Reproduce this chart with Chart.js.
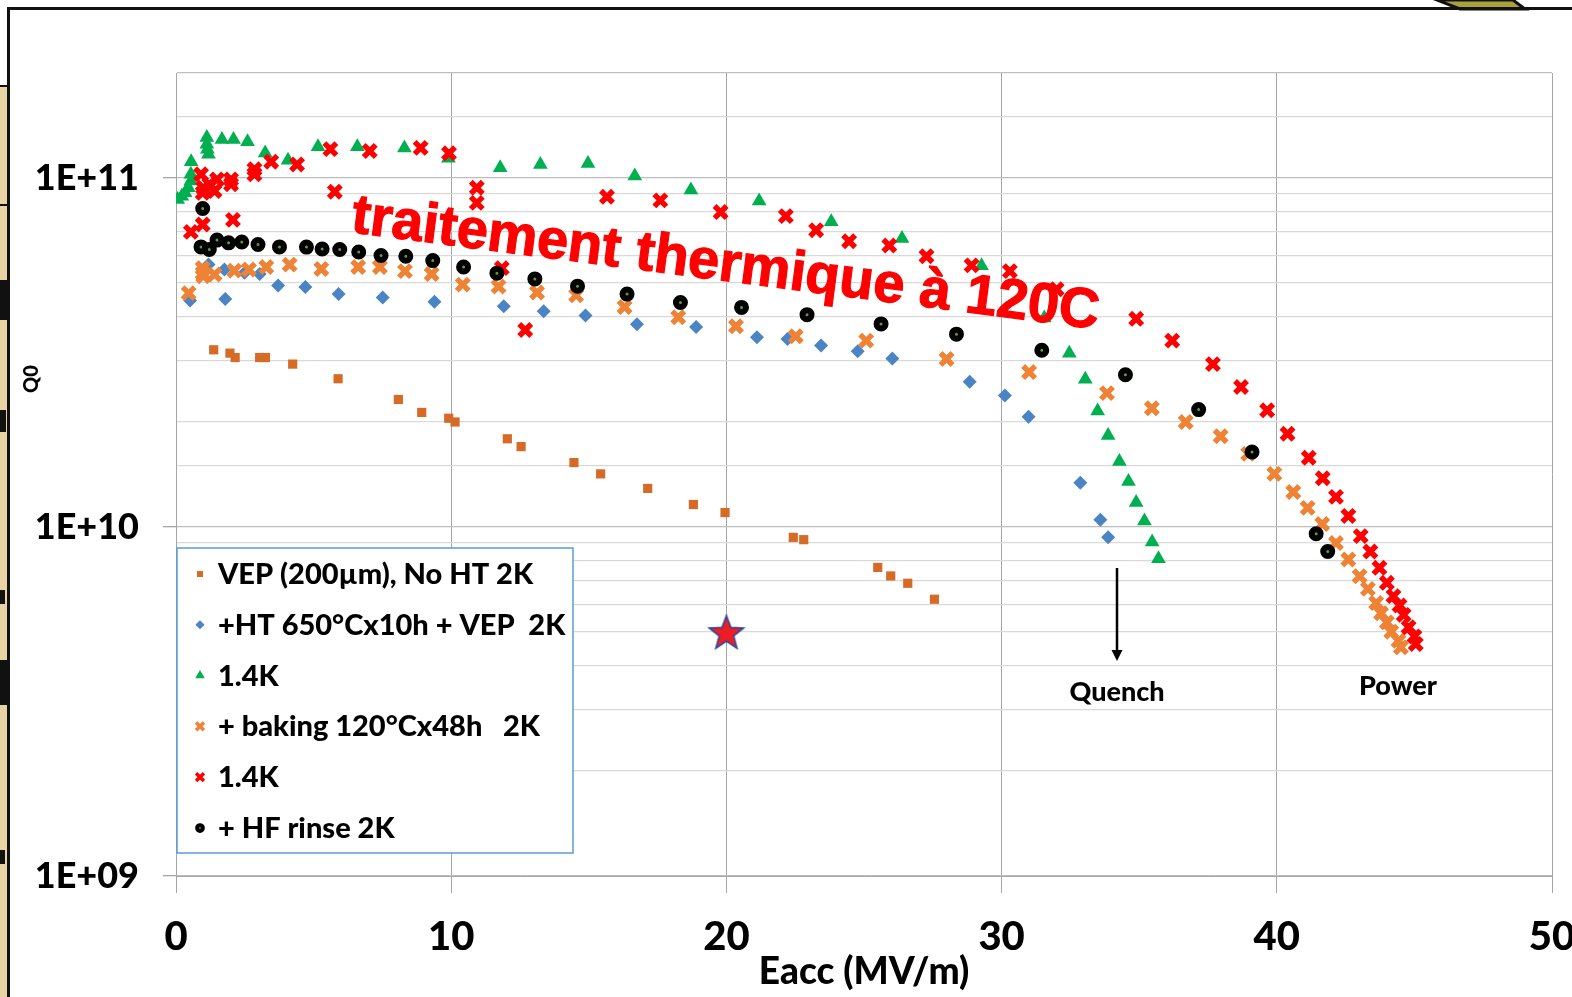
<!DOCTYPE html>
<html>
<head>
<meta charset="utf-8">
<script src="https://cdn.jsdelivr.net/npm/chart.js@4.4.0/dist/chart.umd.min.js"></script>
<style>
  html, body { margin: 0; padding: 0; background: #fff; }
  #wrap { position: relative; width: 1572px; height: 997px; }
</style>
</head>
<body>
<div id="wrap"><canvas id="c" width="1572" height="997"></canvas></div>
<script>
// Q0 vs Eacc
const seriesNames = [
  'VEP (200µm), No HT 2K',
  '+HT 650°Cx10h + VEP  2K',
  '1.4K',
  '+ baking 120°Cx48h   2K',
  '1.4K',
  '+ HF rinse 2K',
];

const vepX = [1.37, 1.96, 2.15, 3.04, 3.25, 4.24, 5.89, 8.08, 8.93, 9.91, 10.14, 12.04, 12.54, 14.46, 15.43, 17.14, 18.80, 19.95, 22.43, 22.81, 25.50, 25.97, 26.59, 27.56];
const vepQ = [3.22e10, 3.15e10, 3.06e10, 3.06e10, 3.06e10, 2.93e10, 2.66e10, 2.32e10, 2.13e10, 2.05e10, 2.0e10, 1.79e10, 1.70e10, 1.53e10, 1.42e10, 1.29e10, 1.16e10, 1.10e10, 9.34e9, 9.2e9, 7.66e9, 7.24e9, 6.90e9, 6.21e9];

const htX = [0.51, 1.18, 1.76, 1.79, 2.49, 3.04, 3.71, 4.70, 5.91, 7.51, 9.39, 11.91, 13.36, 14.88, 16.75, 18.90, 21.11, 22.22, 23.44, 24.77, 26.03, 28.84, 30.12, 30.98, 32.86, 33.59, 33.87];
const htQ = [4.46e10, 5.65e10, 5.47e10, 4.50e10, 5.35e10, 5.31e10, 4.92e10, 4.87e10, 4.65e10, 4.55e10, 4.42e10, 4.29e10, 4.15e10, 4.04e10, 3.81e10, 3.74e10, 3.50e10, 3.46e10, 3.31e10, 3.19e10, 3.04e10, 2.61e10, 2.38e10, 2.07e10, 1.34e10, 1.05e10, 9.34e9];

const cold1X = [0.06, 0.21, 0.33, 0.45, 0.54, 0.54, 0.55, 1.12, 1.12, 1.14, 1.18, 1.67, 2.09, 2.60, 3.24, 4.07, 5.16, 6.59, 8.30, 9.90, 11.78, 13.24, 14.97, 16.67, 18.71, 21.19, 23.81, 26.38, 29.27, 31.55, 32.46, 33.04, 33.49, 33.87, 34.28, 34.61, 34.89, 35.19, 35.47, 35.70];
const cold1Q = [8.68e10, 8.87e10, 9.07e10, 9.38e10, 9.80e10, 1.025e11, 1.114e11, 1.306e11, 1.25e11, 1.21e11, 1.17e11, 1.29e11, 1.29e11, 1.27e11, 1.18e11, 1.124e11, 1.23e11, 1.23e11, 1.22e11, 1.14e11, 1.07e11, 1.094e11, 1.10e11, 1.013e11, 9.24e10, 8.59e10, 7.49e10, 6.71e10, 5.61e10, 3.97e10, 3.15e10, 2.65e10, 2.15e10, 1.83e10, 1.54e10, 1.35e10, 1.175e10, 1.04e10, 9.06e9, 8.11e9];

const bakX = [0.46, 0.97, 0.97, 0.99, 1.40, 2.12, 2.65, 3.28, 4.13, 5.28, 6.62, 7.41, 8.32, 9.29, 10.42, 11.72, 13.12, 14.54, 16.30, 18.25, 20.35, 22.52, 25.08, 28.0, 31.0, 33.83, 35.46, 36.69, 37.96, 38.96, 39.91, 40.60, 41.12, 41.65, 42.15, 42.60, 43.01, 43.31, 43.61, 43.79, 44.0, 44.16, 44.42, 44.51];
const bakQ = [4.68e10, 5.52e10, 5.34e10, 5.23e10, 5.29e10, 5.43e10, 5.47e10, 5.56e10, 5.65e10, 5.49e10, 5.56e10, 5.56e10, 5.41e10, 5.31e10, 4.95e10, 4.89e10, 4.70e10, 4.61e10, 4.27e10, 3.99e10, 3.76e10, 3.52e10, 3.42e10, 3.03e10, 2.78e10, 2.42e10, 2.19e10, 2.00e10, 1.82e10, 1.62e10, 1.42e10, 1.26e10, 1.135e10, 1.02e10, 9.0e9, 8.07e9, 7.23e9, 6.65e9, 6.06e9, 5.66e9, 5.33e9, 5.01e9, 4.72e9, 4.52e9];

const cold2X = [0.54, 0.91, 0.97, 0.97, 0.99, 1.21, 1.40, 1.49, 2.00, 2.00, 2.07, 2.85, 2.85, 3.46, 4.40, 5.61, 5.77, 7.04, 8.89, 9.92, 10.93, 10.93, 11.84, 12.69, 15.66, 17.60, 19.79, 22.16, 23.26, 24.46, 25.92, 27.27, 28.91, 30.30, 32.0, 34.89, 36.20, 37.68, 38.70, 39.65, 40.39, 41.16, 41.67, 42.15, 42.60, 43.05, 43.40, 43.73, 44.0, 44.24, 44.46, 44.61, 44.79, 45.0, 45.05];
const cold2Q = [7.01e10, 1.025e11, 9.07e10, 7.36e10, 9.38e10, 9.6e10, 9.18e10, 9.91e10, 9.91e10, 9.6e10, 7.59e10, 1.06e11, 1.025e11, 1.114e11, 1.094e11, 1.21e11, 9.14e10, 1.196e11, 1.22e11, 1.178e11, 9.38e10, 8.49e10, 5.52e10, 3.67e10, 8.84e10, 8.63e10, 7.99e10, 7.78e10, 7.09e10, 6.59e10, 6.41e10, 5.97e10, 5.62e10, 5.41e10, 4.8e10, 3.95e10, 3.42e10, 2.93e10, 2.52e10, 2.16e10, 1.85e10, 1.58e10, 1.38e10, 1.22e10, 1.076e10, 9.42e9, 8.51e9, 7.64e9, 6.92e9, 6.34e9, 5.96e9, 5.60e9, 5.16e9, 4.86e9, 4.62e9];

const hfX = [0.97, 0.91, 1.21, 1.49, 1.91, 2.39, 2.98, 3.76, 4.74, 5.31, 5.95, 6.64, 7.45, 8.35, 9.33, 10.45, 11.66, 13.04, 14.59, 16.39, 18.33, 20.55, 22.93, 25.62, 28.36, 31.46, 34.50, 37.16, 39.10, 41.43, 41.85];
const hfQ = [8.18e10, 6.35e10, 6.24e10, 6.64e10, 6.52e10, 6.56e10, 6.45e10, 6.35e10, 6.34e10, 6.26e10, 6.24e10, 6.14e10, 6.0e10, 5.97e10, 5.80e10, 5.56e10, 5.34e10, 5.14e10, 4.90e10, 4.65e10, 4.40e10, 4.26e10, 4.06e10, 3.82e10, 3.57e10, 3.21e10, 2.73e10, 2.17e10, 1.64e10, 9.57e9, 8.51e9];

const starX = [20];
const starQ = [5.0e9];

const xTicks = [0, 10, 20, 30, 40, 50];

function toPoints(xs, ys) {
  return xs.map((x, i) => ({ x, y: ys[i] }));
}

function isDecade(v) {
  const l = Math.log10(v);
  return Math.abs(l - Math.round(l)) < 1e-9;
}

function fmtDecade(v) {
  const e = Math.round(Math.log10(v));
  return '1E+' + String(e).padStart(2, '0');
}

function makeStar(r) {
  const c = document.createElement('canvas');
  const s = Math.ceil(r * 2 + 4);
  c.width = s; c.height = s;
  const g = c.getContext('2d');
  g.beginPath();
  for (let i = 0; i < 10; i++) {
    const rr = i % 2 ? r * 0.42 : r;
    const a = -Math.PI / 2 + i * Math.PI / 5;
    g.lineTo(s / 2 + rr * Math.cos(a), s / 2 + 1.5 + rr * Math.sin(a));
  }
  g.closePath();
  g.fillStyle = '#EE1C25';
  g.fill();
  g.lineWidth = 1.6;
  g.strokeStyle = '#2E4A9A';
  g.stroke();
  return c;
}

// styles des marqueurs, réutilisés pour la légende
const markers = [
  { pointStyle: 'rect', radius: 6.5, bg: '#D66B27', border: '#D66B27', bw: 0 },
  { pointStyle: 'rectRot', radius: 7, bg: '#4A84C4', border: '#4A84C4', bw: 0 },
  { pointStyle: 'triangle', radius: 8.5, bg: '#00B050', border: '#00B050', bw: 0 },
  { pointStyle: 'crossRot', radius: 8.5, bg: '#EE8235', border: '#EE8235', bw: 5.5 },
  { pointStyle: 'crossRot', radius: 8.5, bg: '#FF0000', border: '#FF0000', bw: 5.5 },
  { pointStyle: 'circle', radius: 4.5, bg: '#5C9E3A', border: '#000000', bw: 6 },
];

const seriesData = [
  toPoints(vepX, vepQ),
  toPoints(htX, htQ),
  toPoints(cold1X, cold1Q),
  toPoints(bakX, bakQ),
  toPoints(cold2X, cold2Q),
  toPoints(hfX, hfQ),
];

const datasets = seriesData.map((data, i) => ({
  label: seriesNames[i],
  data,
  showLine: false,
  pointStyle: markers[i].pointStyle,
  pointRadius: markers[i].radius,
  pointBackgroundColor: markers[i].bg,
  pointBorderColor: markers[i].border,
  pointBorderWidth: markers[i].bw,
  order: 6 - i,
}));

datasets.push({
  label: 'star',
  data: toPoints(starX, starQ),
  showLine: false,
  pointStyle: makeStar(18),
  pointRadius: 18,
  order: 0,
});

const LABEL_FONT = '"Lato", sans-serif';

const decorPlugin = {
  id: 'decor',
  beforeDraw(chart) {
    const ctx = chart.ctx;
    ctx.save();
    ctx.fillStyle = '#fff';
    ctx.fillRect(0, 0, chart.width, chart.height);
    // bande beige à gauche
    ctx.fillStyle = '#E7D3A3';
    ctx.fillRect(0, 86, 8, 911);
    ctx.fillStyle = '#111';
    [[0, 280, 8, 40], [0, 410, 6, 22], [0, 590, 5, 14], [0, 660, 8, 45], [0, 850, 5, 14]].forEach(([x, y, w, h]) => {
      ctx.fillRect(x, y, w, h);
    });
    ctx.strokeStyle = '#111';
    ctx.lineWidth = 2;
    ctx.beginPath();
    ctx.moveTo(0, 86); ctx.lineTo(9, 86);
    ctx.moveTo(0, 205); ctx.lineTo(9, 205);
    ctx.stroke();
    // forme olive en haut à droite
    ctx.beginPath();
    ctx.moveTo(1437, 0); ctx.lineTo(1513, 0); ctx.lineTo(1525, 9); ctx.lineTo(1460, 9);
    ctx.closePath();
    ctx.fillStyle = '#A9A33A';
    ctx.fill();
    ctx.lineWidth = 3;
    ctx.stroke();
    // cadre
    ctx.lineWidth = 3;
    ctx.beginPath();
    ctx.moveTo(8.5, 997); ctx.lineTo(8.5, 8.5); ctx.lineTo(1572, 8.5);
    ctx.stroke();
    ctx.restore();
  },
  afterDatasetsDraw(chart) {
    const ctx = chart.ctx;
    const area = chart.chartArea;
    ctx.save();

    // titres des axes
    ctx.fillStyle = '#000';
    ctx.font = '900 37px ' + LABEL_FONT;
    ctx.textAlign = 'center';
    ctx.textBaseline = 'alphabetic';
    ctx.fillText('Eacc (MV/m)', (area.left + area.right) / 2, 984);
    ctx.save();
    ctx.translate(38, 379);
    ctx.rotate(-Math.PI / 2);
    ctx.font = '900 20px ' + LABEL_FONT;
    ctx.fillText('Q0', 0, 0);
    ctx.restore();

    // annotations
    ctx.font = '900 27px ' + LABEL_FONT;
    ctx.fillText('Quench', 1117, 701);
    ctx.fillText('Power', 1398, 695);
    ctx.strokeStyle = '#000';
    ctx.lineWidth = 2.5;
    ctx.beginPath();
    ctx.moveTo(1117, 568); ctx.lineTo(1117, 652);
    ctx.stroke();
    ctx.beginPath();
    ctx.moveTo(1111.5, 650); ctx.lineTo(1122.5, 650); ctx.lineTo(1117, 661);
    ctx.closePath();
    ctx.fillStyle = '#000';
    ctx.fill();

    // légende
    const lx = 177, ly = 548, lw = 396, lh = 305;
    ctx.fillStyle = '#fff';
    ctx.fillRect(lx, ly, lw, lh);
    ctx.strokeStyle = '#5B9BD5';
    ctx.lineWidth = 1.5;
    ctx.strokeRect(lx, ly, lw, lh);
    ctx.textAlign = 'left';
    ctx.font = '900 29px ' + LABEL_FONT;
    seriesNames.forEach((name, i) => {
      const base = 584 + i * 50.8;
      const m = markers[i];
      ctx.fillStyle = m.bg;
      ctx.strokeStyle = m.border;
      ctx.lineWidth = m.bw * 0.65;
      Chart.helpers.drawPoint(ctx, {
        pointStyle: m.pointStyle,
        radius: m.radius * 0.65,
        rotation: 0,
        borderWidth: m.bw * 0.65,
      }, 200, base - 10);
      ctx.fillStyle = '#000';
      ctx.fillText(name, 218, base);
    });

    // texte rouge incliné
    ctx.save();
    ctx.translate(350, 232);
    ctx.rotate(7.4 * Math.PI / 180);
    ctx.font = 'bold 56px "Liberation Sans", Arial, sans-serif';
    ctx.fillStyle = '#FF0000';
    ctx.strokeStyle = '#FF0000';
    ctx.lineWidth = 1.2;
    ctx.fillText('traitement thermique à 120C', 0, 0);
    ctx.strokeText('traitement thermique à 120C', 0, 0);
    ctx.restore();

    ctx.restore();
  },
};

new Chart(document.getElementById('c'), {
  type: 'scatter',
  data: { datasets },
  options: {
    responsive: false,
    animation: false,
    devicePixelRatio: 1,
    layout: { padding: { left: 0, right: 20, top: 73, bottom: 0 } },
    plugins: {
      legend: { display: false },
      tooltip: { enabled: false },
    },
    scales: {
      x: {
        type: 'linear',
        min: 0,
        max: 50,
        afterFit(s) { s.height = 121; s.paddingLeft = 0; s.paddingRight = 0; },
        afterBuildTicks(s) { s.ticks = xTicks.map((v) => ({ value: v })); },
        border: { color: '#A6A6A6', width: 1 },
        grid: { color: '#A6A6A6', lineWidth: 1, tickLength: 17, tickColor: '#A6A6A6' },
        ticks: {
          padding: 20,
          color: '#000',
          maxRotation: 0,
          autoSkip: false,
          font: { family: 'Lato', weight: '900', size: 40 },
        },
      },
      y: {
        type: 'logarithmic',
        min: 1e9,
        max: 2e11,
        afterFit(s) { s.width = 176; s.paddingTop = 0; s.paddingBottom = 0; },
        border: { color: '#A6A6A6', width: 1 },
        grid: {
          lineWidth: 1.3,
          tickLength: 13,
          color: (c) => (c.tick && isDecade(c.tick.value) ? '#BDBDBD' : (c.tick && c.tick.value >= 2e11 ? '#BFBFBF' : '#D9D9D9')),
          tickColor: (c) => (c.tick && isDecade(c.tick.value) ? '#A6A6A6' : 'rgba(0,0,0,0)'),
        },
        ticks: {
          autoSkip: false,
          padding: 24,
          color: '#000',
          font: { family: 'Lato', weight: '900', size: 36 },
          callback: (v) => (isDecade(v) ? fmtDecade(v) : ''),
        },
      },
    },
  },
  plugins: [decorPlugin],
});
</script>
</body>
</html>
